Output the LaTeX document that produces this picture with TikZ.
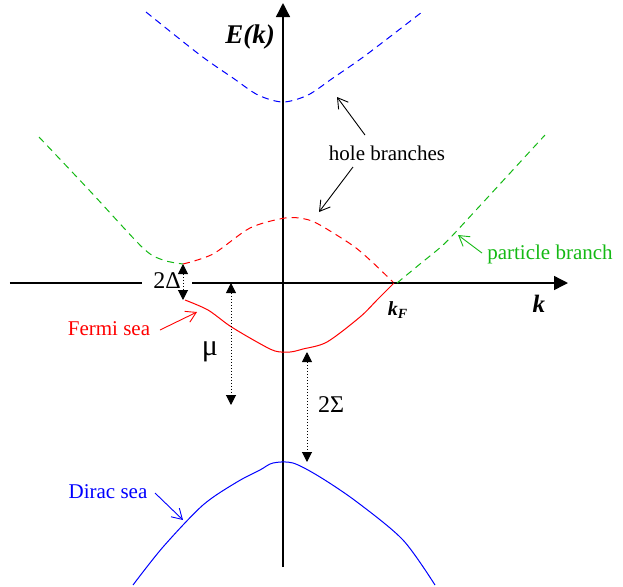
\documentclass[tikz,border=0pt]{standalone}
\usepackage{fontspec}
\setmainfont{Liberation Serif}
\usetikzlibrary{arrows.meta}
\definecolor{fermired}{RGB}{255,0,0}
\definecolor{branchgreen}{RGB}{20,185,20}
\definecolor{diracblue}{RGB}{0,0,255}
\tikzstyle{axis} = [line width=0.7pt, -{Triangle[length=7pt,width=7pt]}]
\tikzstyle{band} = [line width=0.5pt]
\tikzstyle{hole} = [band, dash pattern=on 3.5pt off 2.5pt]
\tikzstyle{gaparrow} = [line width=0.5pt, densely dotted, {Triangle[length=5pt,width=5pt]}-{Triangle[length=5pt,width=5pt]}]
\tikzstyle{callout} = [line width=0.45pt, -{Straight Barb[length=5pt,width=6pt]}]
\tikzstyle{tag} = [font=\fontsize{10.5}{12}\selectfont, inner sep=0pt, anchor=base]
\tikzstyle{sym} = [font=\fontsize{12}{14}\selectfont, inner sep=0pt, anchor=base]

\begin{document}
\begin{tikzpicture}[x=0.5pt, y=-0.5pt]
    \useasboundingbox (0,0) rectangle (623,586);
    % axes
    \coordinate (kmin) at (10,283);
    \coordinate (kmax) at (568,283);
    \coordinate (Emin) at (283,567);
    \coordinate (Emax) at (283,3);
    \draw[axis] (kmin) -- (kmax);
    \draw[axis] (Emin) -- (Emax);
    \node[font=\fontsize{13.5}{15}\selectfont\bfseries\itshape] (Elabel) at (250,37) {E(k)};
    \node[font=\fontsize{12.5}{14}\selectfont\bfseries\itshape] (klabel) at (539,304) {k};
    \node[font=\fontsize{10}{12}\selectfont\bfseries\itshape] (kF) at (398,310) {k\textsubscript{F}};
    \node[sym, fill=white, inner xsep=5.5pt, inner ysep=1pt] (gap) at (167,288) {2Δ};

    % bands
    \draw[hole, diracblue] plot[smooth] coordinates {(146,12) (200,55) (233,78) (258,95) (283,102) (308,95) (333,78) (366,55) (422,12)};
    \draw[hole, branchgreen] plot[smooth] coordinates {(39,137) (90,191) (143,248) (163,260) (183,264)};
    \draw[hole, fermired] plot[smooth] coordinates {(183,264) (213,254) (250,228) (285,218) (305,219) (320,225) (352,245) (370,260) (393,282)};
    \draw[hole, branchgreen] plot[smooth] coordinates {(397,283) (420,264) (443,245) (465,222) (545,135)};
    \draw[band, fermired] plot[smooth] coordinates {(185,300) (208,310) (230,326) (257,342) (275,351) (290,352) (303,349) (327,342) (360,317) (377,300) (394,283)};
    \draw[band, diracblue] plot[smooth] coordinates {(133,585) (163,547) (203,505) (237,482) (260,470) (273,463) (293,463) (320,477) (357,502) (403,540) (435,585)};

    % gaps
    \coordinate (gapTop) at (183,264);
    \coordinate (gapBot) at (183,300);
    \coordinate (muTop) at (231,283);
    \coordinate (muBot) at (231,405);
    \coordinate (sigTop) at (307,352);
    \coordinate (sigBot) at (307,462);
    \draw[gaparrow] (gapTop) -- (gapBot);
    \draw[gaparrow] (muTop) -- (muBot);
    \draw[gaparrow] (sigTop) -- (sigBot);
    \node[sym, font=\fontsize{15}{17}\selectfont] (mu) at (210,355) {μ};
    \node[sym] (sigma) at (331,412) {2Σ};

    % labels
    \node[tag] (holes) at (387,160) {hole branches};
    \node[tag, text=branchgreen] (particle) at (550,259) {particle branch};
    \node[tag, text=fermired] (fermi) at (109,335) {Fermi sea};
    \node[tag, text=diracblue] (dirac) at (108,498) {Dirac sea};
    \coordinate (holeUp) at (365,135);
    \coordinate (holeUpTip) at (337,97);
    \coordinate (holeDown) at (353,167);
    \coordinate (holeDownTip) at (319,212);
    \coordinate (partTail) at (482,253);
    \coordinate (partTip) at (458,235);
    \coordinate (fermiTail) at (160,330);
    \coordinate (fermiTip) at (197,312);
    \coordinate (diracTail) at (155,493);
    \coordinate (diracTip) at (183,520);
    \draw[callout] (holeUp) -- (holeUpTip);
    \draw[callout] (holeDown) -- (holeDownTip);
    \draw[callout, branchgreen] (partTail) -- (partTip);
    \draw[callout, fermired] (fermiTail) -- (fermiTip);
    \draw[callout, diracblue] (diracTail) -- (diracTip);
\end{tikzpicture}
\end{document}
